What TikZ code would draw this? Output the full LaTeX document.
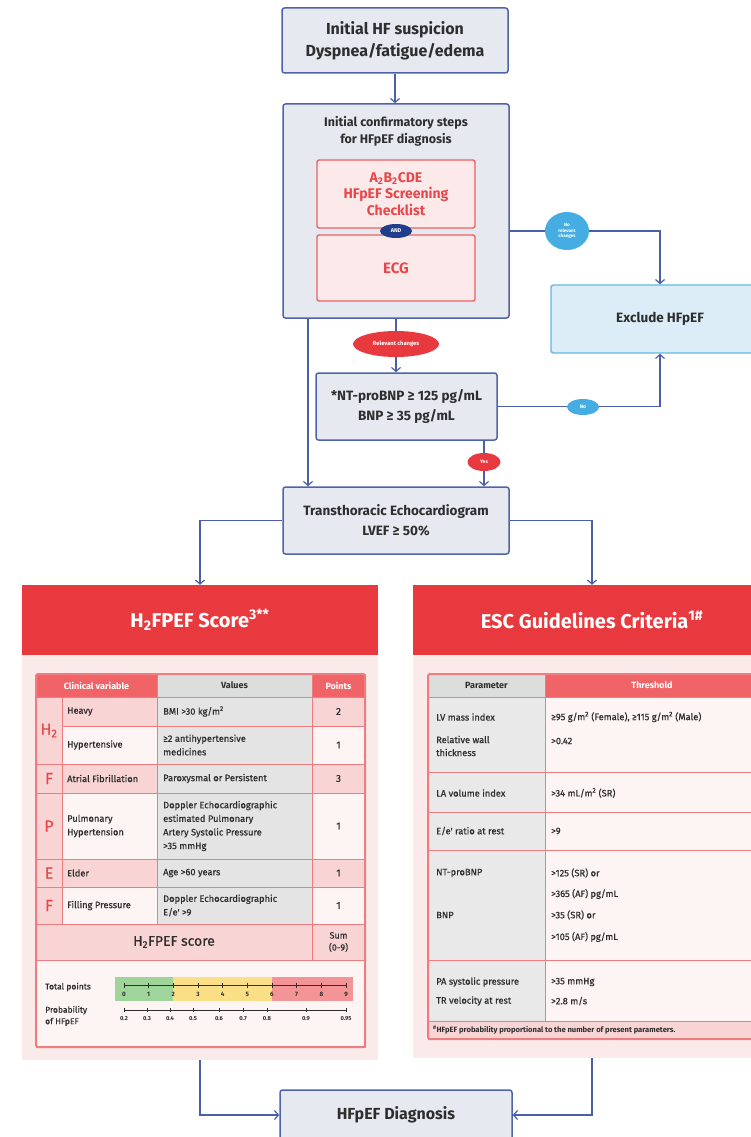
\documentclass[tikz,border=0pt]{standalone}
\usepackage{fontspec}
\setmainfont{Fira Sans}
\newfontfamily\tabf{Fira Sans}[FakeBold=0.6]
\usetikzlibrary{arrows.meta,shapes.geometric,calc}
\definecolor{navy}{HTML}{4A5FA8}
\definecolor{navyb}{HTML}{4E64A9}
\definecolor{boxfill}{HTML}{E7E9F1}
\definecolor{txt}{HTML}{2E2E2E}
\definecolor{redb}{HTML}{EE5F62}
\definecolor{redfill}{HTML}{FCEAEA}
\definecolor{redt}{HTML}{E8474B}
\definecolor{andblue}{HTML}{213E8C}
\definecolor{sky}{HTML}{45ADE1}
\definecolor{exclfill}{HTML}{DDEDF7}
\definecolor{exclb}{HTML}{62B8E3}
\definecolor{redm}{HTML}{E83A3E}
\definecolor{panel}{HTML}{FBEAEA}
\definecolor{tline}{HTML}{EF7C7F}
\definecolor{salmon}{HTML}{F06468}
\definecolor{pinkc}{HTML}{F8D4D5}
\definecolor{lightc}{HTML}{FDF4F4}
\definecolor{grayv}{HTML}{E4E4E4}
\definecolor{grayh}{HTML}{DCDEDD}
\definecolor{grayp}{HTML}{E9E9E9}
\definecolor{greenbar}{HTML}{9FD59B}
\definecolor{yellowbar}{HTML}{FADF86}
\definecolor{redbar}{HTML}{F39597}
\begin{document}
\begin{tikzpicture}[x=1pt,y=-1pt,
  bluebox/.style={draw=navyb, fill=boxfill, line width=1.5pt, rounded corners=2.5pt, align=center, text=txt, inner sep=0pt},
  redbox/.style={draw=redb, fill=redfill, line width=1.4pt, rounded corners=2pt, align=center, text=redt, inner sep=0pt},
  conn/.style={draw=navy, line width=1.2pt},
  arr/.style={conn, -{Straight Barb[length=4pt,width=9pt]}},
  pill/.style={ellipse, inner sep=0pt, text=white, align=center, font=\bfseries\fontsize{5}{5.5}\selectfont},
  panelbg/.style={fill=panel, inner sep=0pt},
  header/.style={fill=redm, inner sep=0pt, text=white, font=\fontsize{20}{24}\selectfont\bfseries},
  cell/.style={draw=tline, line width=1pt},
  tx/.style={inner sep=0pt, align=left, text=txt, font=\tabf\fontsize{9.3}{13.6}\selectfont},
  th/.style={inner sep=0pt, align=center, font=\bfseries\fontsize{9}{11}\selectfont},
  let/.style={inner sep=0pt, text=redt, font=\tabf\fontsize{16}{18}\selectfont},
  sc/.style={inner sep=0pt, text=txt, font=\bfseries\fontsize{6.3}{7}\selectfont}
]
\useasboundingbox (0,0) rectangle (751,1137);
\clip (0,0) rectangle (751,1137);
\fill[white] (0,0) rectangle (751,1137);

% ---------- flow boxes ----------
\node[bluebox, minimum width=226, minimum height=65, font=\bfseries\fontsize{16}{22}\selectfont] (b1) at (395,40.5) {Initial HF suspicion\\Dyspnea/fatigue/edema};
\node[bluebox, minimum width=226, minimum height=214] (b2) at (396,211) {};
\node[inner sep=0pt, align=center, text=txt, font=\bfseries\fontsize{12.5}{17}\selectfont] (b2t) at (396,131.5) {Initial confirmatory steps\\for HFpEF diagnosis};
\node[redbox, minimum width=158, minimum height=68, font=\bfseries\fontsize{14}{16.5}\selectfont] (chk) at (396,194) {A\textsubscript{2}B\textsubscript{2}CDE\\HFpEF Screening\\Checklist};
\node[redbox, minimum width=158, minimum height=66, font=\bfseries\fontsize{15}{17}\selectfont] (ecg) at (396,268) {ECG};
\node[pill, fill=andblue, minimum width=32, minimum height=14, font=\bfseries\fontsize{5.5}{6}\selectfont] (and) at (396,231) {AND};
\node[draw=exclb, fill=exclfill, line width=1.4pt, rounded corners=2.5pt, minimum width=218, minimum height=68, inner sep=0pt, text=txt, font=\bfseries\fontsize{13.5}{16}\selectfont] (excl) at (660,319) {Exclude HFpEF};
\node[bluebox, minimum width=181, minimum height=67, font=\bfseries\fontsize{13.5}{20}\selectfont] (nt) at (406.5,406.5) {*NT-proBNP ≥ 125 pg/mL\\BNP ≥ 35 pg/mL};
\node[bluebox, minimum width=226, minimum height=67, font=\bfseries\fontsize{13.5}{20}\selectfont] (tte) at (396,520.5) {Transthoracic Echocardiogram\\LVEF ≥ 50\%};

% ---------- panels ----------
\node[panelbg, minimum width=356, minimum height=475] (lpbg) at (200,822.5) {};
\node[header, minimum width=356, minimum height=70] (lp) at (200,620) {H\textsubscript{2}FPEF Score\textsuperscript{3**}};
\node[panelbg, minimum width=358, minimum height=473] (rpbg) at (592,821.5) {};
\node[header, minimum width=358, minimum height=70] (rp) at (592,620) {ESC Guidelines Criteria\textsuperscript{1\#}};
\node[bluebox, minimum width=232, minimum height=50, font=\bfseries\fontsize{16}{20}\selectfont] (dx) at (396,1115) {HFpEF Diagnosis};

% ---------- connectors ----------
\draw[arr] (b1.south) -- (b1.south |- b2.north);
\draw[arr] (b2.east |- and) -| (excl.north);
\draw[arr] (b2.south -| and) -- (nt.north -| and);
\draw[arr] ([xshift=-88pt]b2.south) -- ([xshift=-88pt]b2.south |- tte.north);
\draw[arr] (nt.east) -| (excl.south);
\draw[arr] ([xshift=77.5pt]nt.south) -- ([xshift=77.5pt]nt.south |- tte.north);
\draw[arr] (tte.west) -| (lp.north);
\draw[arr] (tte.east) -| (rp.north);
\draw[arr] (lpbg.south) |- (dx.west);
\draw[arr] (rpbg.south) |- (dx.east);

% ---------- pills ----------
\node[pill, fill=sky, minimum width=44, minimum height=38, font=\bfseries\fontsize{4.6}{5.2}\selectfont] (no1) at (567,231) {No\\relevant\\changes};
\node[pill, fill=redm, minimum width=86, minimum height=26, font=\bfseries\fontsize{5.8}{6}\selectfont] (rel) at (396,344) {Relevant changes};
\node[pill, fill=sky, minimum width=32, minimum height=16] (no2) at (583,407) {No};
\node[pill, fill=redm, minimum width=33, minimum height=18] (yes) at (484,462) {Yes};

% ---------- left table ----------
\draw[cell, fill=salmon] (36,674) rectangle (157,697);
\draw[cell, fill=grayh] (157,674) rectangle (312,697);
\draw[cell, fill=salmon] (312,674) rectangle (365,697);
\node[th, text=white] (lh1) at (96.5,685.5) {Clinical variable};
\node[th, text=txt] (lh2) at (234.5,685.5) {Values};
\node[th, text=white] (lh3) at (338.5,685.5) {Points};
\foreach \ya/\yb/\fc [count=\k] in {697/726/pinkc, 726/764/lightc, 764/793/pinkc, 793/859/lightc, 859/887/pinkc, 887/924/lightc}{
  \draw[cell, fill=\fc] (62,\ya) rectangle (157,\yb);
  \draw[cell, fill=grayv] (157,\ya) rectangle (312,\yb);
  \draw[cell, fill=\fc] (312,\ya) rectangle (365,\yb);
}
\foreach \ya/\yb in {697/764, 764/793, 793/859, 859/887, 887/924}{
  \draw[cell, fill=pinkc] (36,\ya) rectangle (62,\yb);
}
\node[let] (lH) at (49,730.5) {H\textsubscript{2}};
\node[let] (lF1) at (49,778.5) {F};
\node[let] (lP) at (49,826) {P};
\node[let] (lE) at (49,873) {E};
\node[let] (lF2) at (49,905.5) {F};
\node[tx, anchor=west] (n1) at (67,711.5) {Heavy};
\node[tx, anchor=west] (n2) at (67,745) {Hypertensive};
\node[tx, anchor=west] (n3) at (67,778.5) {Atrial Fibrillation};
\node[tx, anchor=west] (n4) at (67,826) {Pulmonary\\Hypertension};
\node[tx, anchor=west] (n5) at (67,873) {Elder};
\node[tx, anchor=west] (n6) at (67,905.5) {Filling Pressure};
\node[tx, anchor=west] (v1) at (163,711.5) {BMI >30 kg/m\textsuperscript{2}};
\node[tx, anchor=west] (v2) at (163,745) {≥2 antihypertensive\\medicines};
\node[tx, anchor=west] (v3) at (163,778.5) {Paroxysmal or Persistent};
\node[tx, anchor=west] (v4) at (163,826) {Doppler Echocardiographic\\estimated Pulmonary\\Artery Systolic Pressure\\>35 mmHg};
\node[tx, anchor=west] (v5) at (163,873) {Age >60 years};
\node[tx, anchor=west] (v6) at (163,905.5) {Doppler Echocardiographic\\E/e' >9};
\node[tx, font=\tabf\fontsize{10}{12}\selectfont] (p1) at (338.5,711.5) {2};
\node[tx, font=\tabf\fontsize{10}{12}\selectfont] (p2) at (338.5,745) {1};
\node[tx, font=\tabf\fontsize{10}{12}\selectfont] (p3) at (338.5,778.5) {3};
\node[tx, font=\tabf\fontsize{10}{12}\selectfont] (p4) at (338.5,826) {1};
\node[tx, font=\tabf\fontsize{10}{12}\selectfont] (p5) at (338.5,873) {1};
\node[tx, font=\tabf\fontsize{10}{12}\selectfont] (p6) at (338.5,905.5) {1};
\draw[cell, fill=pinkc] (36,924) rectangle (312,960);
\draw[cell, fill=pinkc] (312,924) rectangle (365,960);
\node[tx, font=\tabf\fontsize{14}{16}\selectfont] (scr) at (174,942) {H\textsubscript{2}FPEF score};
\node[tx, align=center, font=\tabf\fontsize{9}{12}\selectfont] (sum) at (338.5,942) {Sum\\(0-9)};
\draw[cell, fill=lightc] (36,960) rectangle (365,1047);
\draw[draw=tline, line width=2pt, rounded corners=1.5pt] (36,674) rectangle (365,1047);
% scale
\fill[greenbar] (115,977) rectangle (173,1001);
\fill[yellowbar] (173,977) rectangle (272,1001);
\fill[redbar] (272,977) rectangle (353,1001);
\draw[txt, line width=1pt] (124,985) -- (346,985);
\foreach \i in {0,...,9}{
  \pgfmathsetmacro\xx{124+\i*24.67}
  \draw[txt, line width=1pt] (\xx,982.5) -- (\xx,987.5);
  \node[sc] (tp\i) at (\xx,994.5) {\i};
}
\draw[txt, line width=0.6pt] (124,1010) -- (346,1010);
\foreach \xx/\lab [count=\k] in {124/0.2,147/0.3,170/0.4,193/0.5,219/0.6,243/0.7,267/0.8,306/0.9,346/0.95}{
  \draw[txt, line width=0.6pt] (\xx,1008) -- (\xx,1012);
  \node[sc, font=\bfseries\fontsize{5.8}{6}\selectfont] (pp\k) at (\xx,1018.5) {\lab};
}
\node[tx, anchor=west, font=\tabf\fontsize{8.5}{11}\selectfont] (tpl) at (45,987) {Total points};
\node[tx, anchor=west, font=\tabf\fontsize{8.5}{11.5}\selectfont] (prl) at (45,1016) {Probability\\of HFpEF};

% ---------- right table ----------
\draw[cell, fill=grayh] (428,674) rectangle (545,697);
\draw[cell, fill=salmon] (545,674) rectangle (759,697);
\node[th, text=txt] (rh1) at (486.5,685.5) {Parameter};
\node[th, text=white] (rh2) at (652,685.5) {Threshold};
\foreach \ya/\yb in {697/772, 772/812, 812/850, 850/960, 960/1021}{
  \draw[cell, fill=grayp] (428,\ya) rectangle (545,\yb);
  \draw[cell, fill=lightc] (545,\ya) rectangle (759,\yb);
}
\draw[cell, fill=pinkc] (428,1021) rectangle (759,1039);
\draw[draw=tline, line width=2pt, rounded corners=1.5pt] (428,674) rectangle (759,1039);
\node[tx, anchor=west] (r1a) at (436,717) {LV mass index};
\node[tx, anchor=west, font=\tabf\fontsize{9.3}{13}\selectfont] (r1b) at (436,746) {Relative wall\\thickness};
\node[tx, anchor=west] (t1a) at (551,717) {≥95 g/m\textsuperscript{2} (Female), ≥115 g/m\textsuperscript{2} (Male)};
\node[tx, anchor=west] (t1b) at (551,741) {>0.42};
\node[tx, anchor=west] (r2) at (436,793) {LA volume index};
\node[tx, anchor=west] (t2) at (551,793) {>34 mL/m\textsuperscript{2} (SR)};
\node[tx, anchor=west] (r3) at (436,831) {E/e' ratio at rest};
\node[tx, anchor=west] (t3) at (551,831) {>9};
\node[tx, anchor=west] (r4a) at (436,873) {NT-proBNP};
\node[tx, anchor=west] (r4b) at (436,915) {BNP};
\node[tx, anchor=west] (t4a) at (551,873) {>125 (SR) or};
\node[tx, anchor=west] (t4b) at (551,894) {>365 (AF) pg/mL};
\node[tx, anchor=west] (t4c) at (551,915) {>35 (SR) or};
\node[tx, anchor=west] (t4d) at (551,937) {>105 (AF) pg/mL};
\node[tx, anchor=west] (r5a) at (436,982) {PA systolic pressure};
\node[tx, anchor=west] (r5b) at (436,1001) {TR velocity at rest};
\node[tx, anchor=west] (t5a) at (551,982) {>35 mmHg};
\node[tx, anchor=west] (t5b) at (551,1001) {>2.8 m/s};
\node[tx, anchor=west, font=\bfseries\fontsize{7.6}{9}\selectfont] (fn) at (433,1030) {\textsuperscript{\#}HFpEF probability proportional to the number of present parameters.};
\end{tikzpicture}
\end{document}
